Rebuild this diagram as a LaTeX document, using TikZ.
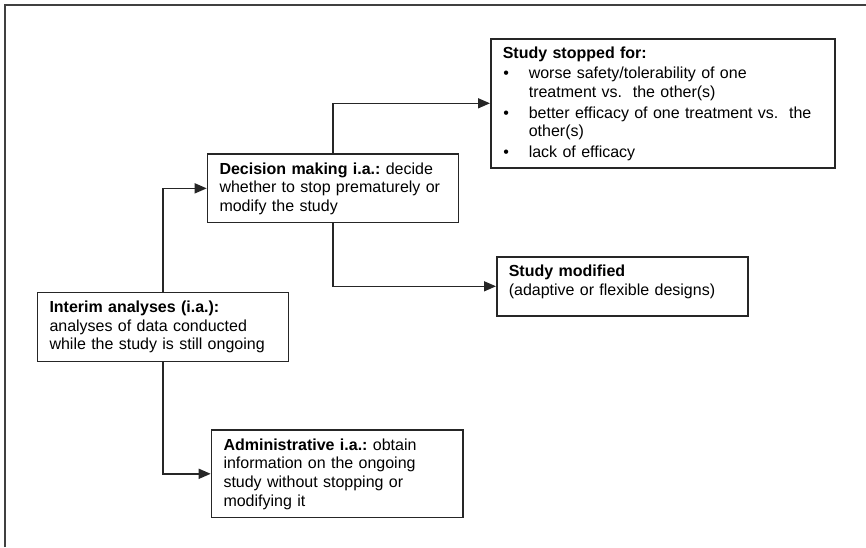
\documentclass[tikz,border=0pt]{standalone}
\usepackage{fontspec}
\setmainfont{Liberation Sans}
\usetikzlibrary{arrows.meta}
\frenchspacing

% first-line and last-line struts that fix the baselines inside a box
\newcommand{\toppad}{\rule{0pt}{20pt}}
\newcommand{\botpad}[1]{\rule[-#1pt]{0pt}{#1pt}}
\newcommand{\bul}{\makebox[26pt][l]{\hspace{0.5pt}•}}
\newcommand{\bulind}{\hspace*{26pt}}

\tikzset{
  infobox/.style={draw=black!85, line width=1.6pt, anchor=north west,
    inner xsep=12pt, inner ysep=0pt, align=left,
    font=\fontsize{16}{18.7}\selectfont},
  conn/.style={draw=black!85, line width=1.5pt,
    -{Triangle[length=12pt,width=10pt]}},
}

\begin{document}
\begin{tikzpicture}[x=1pt,y=-1pt]
\useasboundingbox (0,0) rectangle (866,547);

% outer frame (left and top edges)
\draw[black!75, line width=1.8pt] (5,547) -- (5,5) -- (866,5);

\node[infobox, text width=320pt] (stop) at (490,38)
  {\toppad\textbf{Study stopped for:}\\[1.3pt]
   \bul worse safety/tolerability of one\\
   \bulind treatment vs.\ \ the other(s)\\[2pt]
   \bul better efficacy of one treatment vs.\ \ the\\
   \bulind other(s)\\[2pt]
   \bul lack of efficacy\botpad{10.2}};

\node[infobox, text width=227pt] (dec) at (206.7,153.3)
  {\toppad\textbf{Decision making i.a.:} decide\\
   whether to stop prematurely or\\
   modify the study\botpad{11.1}};

\node[infobox, text width=227pt] (mod) at (496,256)
  {\toppad\textbf{Study modified}\\
   (adaptive or flexible designs)\botpad{20.3}};

\node[infobox, text width=227pt] (int) at (36.7,291.7)
  {\toppad\textbf{Interim analyses (i.a.):}\\
   analyses of data conducted\\
   while the study is still ongoing\botpad{11.4}};

\node[infobox, text width=227.6pt] (adm) at (210.7,429.3)
  {\toppad\textbf{Administrative i.a.:} obtain\\
   information on the ongoing\\
   study without stopping or\\
   modifying it\botpad{11.3}};

% connectors
\draw[conn] (int.north) |- (dec.west);
\draw[conn] (int.south) |- (adm.west);
\draw[conn] (dec.north) |- (stop.west);
\draw[conn] (dec.south) |- (mod.west);
\end{tikzpicture}
\end{document}
